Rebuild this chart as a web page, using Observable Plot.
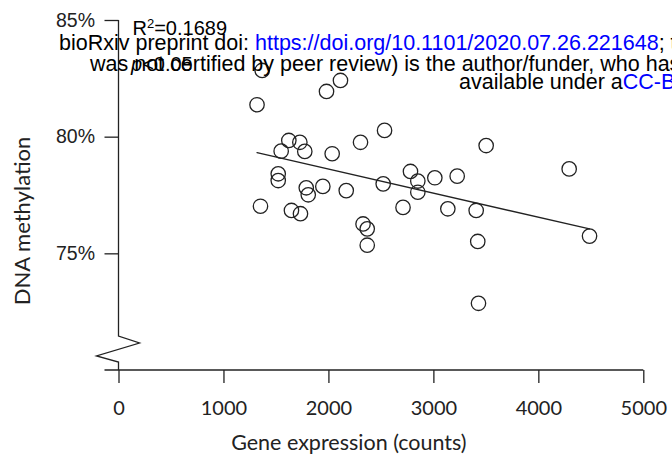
<!DOCTYPE html>
<html>
<head>
<meta charset="utf-8">
<script src="https://cdn.jsdelivr.net/npm/d3@7"></script>
<script src="https://cdn.jsdelivr.net/npm/@observablehq/plot@0.6"></script>
<style>
  html, body { margin: 0; padding: 0; background: #fff; }
  #chart svg { display: block; overflow: hidden; }
</style>
</head>
<body>
<div id="chart"></div>
<script>
// Gene expression (counts) for each sample
const expression = [1364, 2110, 1977, 1315, 2530, 2301, 1618, 1723, 1545, 1770,
  2031, 1517, 1517, 1784, 1803, 1942, 2165, 2517, 2777, 2847,
  2847, 1348, 1643, 1729, 2706, 2325, 2365, 2365, 3009, 3222,
  4289, 3133, 3403, 3418, 4483, 3425, 3498];
// DNA methylation (%) for each sample
const methylation = [82.86, 82.43, 81.96, 81.39, 80.29, 79.78, 79.86, 79.78, 79.40, 79.39,
  79.29, 78.43, 78.14, 77.83, 77.53, 77.89, 77.71, 78.00, 78.53, 78.12,
  77.64, 77.04, 76.86, 76.72, 76.99, 76.28, 76.07, 75.37, 78.26, 78.33,
  78.64, 76.93, 76.86, 75.53, 75.76, 72.88, 79.64];

const xTicks = [0, 1000, 2000, 3000, 4000, 5000];
const yTicks = [75, 80, 85];
const xDomain = [0, 5000];
const yDomain = [70, 85];
const xLabel = "Gene expression (counts)";
const yLabel = "DNA methylation";
const r2Text = "0.1689";
const pText = "<0.05";
const watermark1 = ["bioRxiv preprint doi: ", "https://doi.org/10.1101/2020.07.26.221648", "; this version posted July 27, 2020. The copyright holder for this preprint (which"];
const watermark2 = "was not certified by peer review) is the author/funder, who has granted bioRxiv a license to display the preprint in perpetuity. It is made";
const watermark3 = ["available under a", "CC-BY-NC-ND 4.0 International license", "."];

const data = expression.map((x, i) => ({x, y: methylation[i]}));

const INK = "#222";
const SANS = "'Liberation Sans', Arial, sans-serif";
const HUM = "Lato, 'Liberation Sans', sans-serif";

// Axis lines with the broken-axis zigzag on y
function axisLines(index, {x, y}) {
  const g = d3.create("svg:g").attr("fill", "none").attr("stroke", INK).attr("stroke-width", 1.3);
  const x0 = x(xDomain[0]), x1 = x(xDomain[1]);
  const yb = y(yDomain[0]), yt = y(yDomain[1]);
  g.append("path").attr("d", `M${x0 - 14},${yb}H${x1}`);
  g.append("path").attr("d",
    `M${x0},${yt}V${yb - 34}L${x0 + 21},${yb - 27}L${x0 - 22},${yb - 14}L${x0},${yb - 8}V${yb}`);
  return g.node();
}

function axisTitles(index, {x, y}) {
  const g = d3.create("svg:g").attr("font-family", HUM).attr("fill", INK).attr("text-anchor", "middle");
  const cx = (x(xDomain[0]) + x(xDomain[1])) / 2;
  const cy = (y(yDomain[0]) + y(yDomain[1])) / 2;
  g.append("text").attr("x", cx - 32).attr("y", y(yDomain[0]) + 80)
    .attr("font-size", 21.5).text(xLabel);
  g.append("text").attr("transform", `translate(${x(xDomain[0]) - 89},${cy + 26}) rotate(-90)`)
    .attr("font-size", 22).text(yLabel);
  return g.node();
}

function annotations(index, {x, y}) {
  const g = d3.create("svg:g").attr("font-family", SANS).attr("fill", "#000").attr("text-anchor", "start");
  const ax = x(0);
  const t1 = g.append("text").attr("x", ax + 14).attr("y", 35).attr("font-size", 20);
  t1.append("tspan").text("R");
  t1.append("tspan").attr("font-size", 13).attr("dy", -7).text("2");
  t1.append("tspan").attr("dy", 7).text("=" + r2Text);
  const t2 = g.append("text").attr("x", ax + 12.5).attr("y", 71).attr("font-size", 20);
  t2.append("tspan").attr("font-style", "italic").text("p");
  t2.append("tspan").text(pText);
  return g.node();
}

function watermarkMark() {
  const g = d3.create("svg:g").attr("font-family", SANS).attr("font-size", 21.5)
    .attr("fill", "#000").attr("text-anchor", "start");
  const l1 = g.append("text").attr("x", 59).attr("y", 50);
  l1.append("tspan").text(watermark1[0]);
  l1.append("tspan").attr("fill", "#0000ff").text(watermark1[1]);
  l1.append("tspan").text(watermark1[2]);
  g.append("text").attr("x", 90).attr("y", 71).text(watermark2);
  const l3 = g.append("text").attr("x", 459).attr("y", 89);
  l3.append("tspan").text(watermark3[0]);
  l3.append("tspan").attr("fill", "#0000ff").text(watermark3[1]);
  l3.append("tspan").text(watermark3[2]);
  return g.node();
}

const chart = Plot.plot({
  width: 672,
  height: 459,
  marginLeft: 118.5,
  marginRight: 28.7,
  marginTop: 20,
  marginBottom: 89,
  style: {background: "#fff", overflow: "hidden"},
  x: {domain: xDomain, axis: null},
  y: {domain: yDomain, axis: null},
  marks: [
    axisLines,
    Plot.axisY({ticks: yTicks, tickSize: 14, tickPadding: 10, tickFormat: d => d + "%",
      label: null, fontSize: 19.5, fontFamily: SANS, stroke: INK, strokeWidth: 1.3, color: INK}),
    Plot.axisX({ticks: xTicks, tickSize: 13, tickPadding: 17, tickFormat: d => String(d),
      label: null, fontSize: 20, fontFamily: HUM, stroke: INK, strokeWidth: 1.3, color: INK}),
    axisTitles,
    Plot.linearRegressionY(data, {x: "x", y: "y", stroke: INK, strokeWidth: 1.3, ci: 0}),
    Plot.dot(data, {x: "x", y: "y", r: 7.2, stroke: INK, strokeWidth: 1.3, fill: "none"}),
    annotations,
    watermarkMark
  ]
});
document.getElementById("chart").append(chart);
</script>
</body>
</html>
